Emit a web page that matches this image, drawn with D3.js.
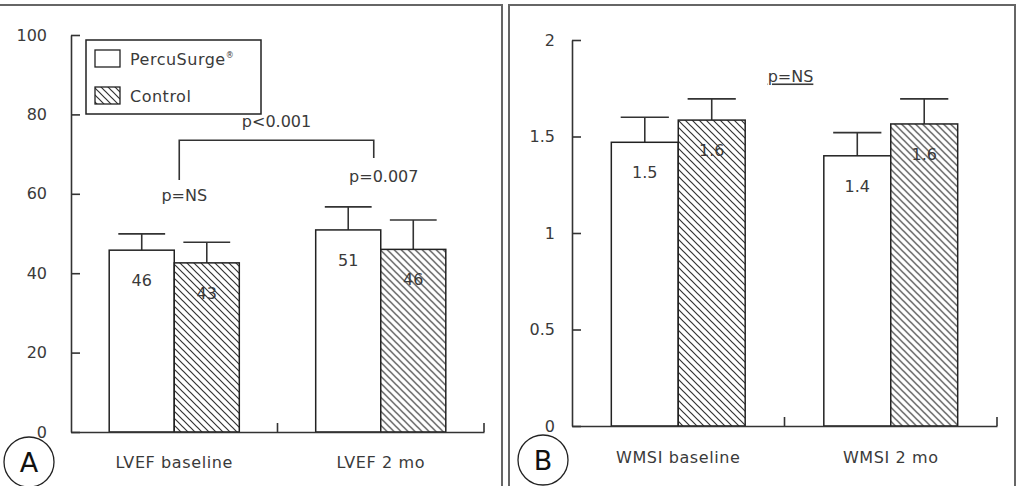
<!DOCTYPE html>
<html>
<head>
<meta charset="utf-8">
<script src="https://cdn.jsdelivr.net/npm/d3@7"></script>
<style>
  body { margin: 0; background: #fff; }
  svg text { font-family: "DejaVu Sans", sans-serif; fill: #3a3a3a; }
</style>
</head>
<body>
<div id="chart"></div>
<script>
// data
var series = ["PercuSurge", "Control"];

var lvefGroups = ["LVEF baseline", "LVEF 2 mo"];
var lvefPercu = [45.8, 50.9];
var lvefControl = [42.6, 46];
var lvefPercuErr = [4.1, 5.8];
var lvefControlErr = [5.2, 7.4];
var lvefTicks = [0, 20, 40, 60, 80, 100];

var wmsiGroups = ["WMSI baseline", "WMSI 2 mo"];
var wmsiPercu = [1.47, 1.40];
var wmsiControl = [1.585, 1.565];
var wmsiPercuErr = [0.13, 0.12];
var wmsiControlErr = [0.11, 0.13];
var wmsiTicks = [0, 0.5, 1, 1.5, 2];

var svg = d3.select("#chart").append("svg")
	.attr("width", 1020)
	.attr("height", 486);

// hatch pattern for the control bars
var defs = svg.append("defs");
var pat = defs.append("pattern")
	.attr("id", "hatch")
	.attr("patternUnits", "userSpaceOnUse")
	.attr("width", 7)
	.attr("height", 7);
pat.append("rect").attr("width", 7).attr("height", 7).attr("fill", "white");
pat.append("path")
	.attr("d", "M0,0 L7,7 M-3.5,3.5 L3.5,10.5 M3.5,-3.5 L10.5,3.5")
	.attr("stroke", "#333")
	.attr("stroke-width", 1.2);

// panel frames (panel A has no left edge in the picture)
svg.append("path").attr("d", "M0,5 H502 V490")
	.attr("fill", "none").attr("stroke", "#666").attr("stroke-width", 2);
svg.append("rect").attr("x", 509).attr("y", 5).attr("width", 506).attr("height", 490)
	.attr("fill", "none").attr("stroke", "#666").attr("stroke-width", 2);

function drawPanel(opt) {
	var g = svg.append("g");

	var y = d3.scaleLinear().domain(opt.domain).range([opt.y0, opt.y1]);
	var x0 = d3.scaleBand().domain(opt.groups).range([opt.x0, opt.x1]).padding(0);
	var bw = x0.bandwidth();
	var x1 = d3.scaleBand().domain(series).range([bw * 0.185, bw * 0.815]).padding(0);

	// y axis
	var yAxis = d3.axisLeft(y)
		.tickValues(opt.ticks)
		.tickFormat(opt.tickFmt)
		.tickSizeInner(-9)
		.tickSizeOuter(0)
		.tickPadding(opt.tickPad);
	var ya = g.append("g").attr("transform", "translate(" + opt.x0 + ",0)").call(yAxis);
	ya.selectAll("path, line").attr("stroke", "#333").attr("stroke-width", 1.6);
	ya.selectAll("text").attr("font-size", "16px").attr("fill", "#3a3a3a")
		.attr("font-family", "DejaVu Sans, sans-serif");

	// bars
	var rows = opt.groups.map(function(grp, i) {
		return [
			{ group: grp, key: "PercuSurge", value: opt.percu[i], err: opt.percuErr[i] },
			{ group: grp, key: "Control", value: opt.control[i], err: opt.controlErr[i] }
		];
	});
	var flat = d3.merge(rows);

	var bars = g.selectAll(".bar").data(flat).enter().append("g")
		.attr("transform", function(d) { return "translate(" + x0(d.group) + ",0)"; });

	// error bars
	bars.append("line")
		.attr("x1", function(d) { return x1(d.key) + x1.bandwidth() / 2; })
		.attr("x2", function(d) { return x1(d.key) + x1.bandwidth() / 2; })
		.attr("y1", function(d) { return y(d.value); })
		.attr("y2", function(d) { return y(d.value + d.err); })
		.attr("stroke", "#333").attr("stroke-width", 1.6);
	bars.append("line")
		.attr("x1", function(d) { return x1(d.key) + x1.bandwidth() * 0.14; })
		.attr("x2", function(d) { return x1(d.key) + x1.bandwidth() * 0.86; })
		.attr("y1", function(d) { return y(d.value + d.err); })
		.attr("y2", function(d) { return y(d.value + d.err); })
		.attr("stroke", "#333").attr("stroke-width", 1.6);

	bars.append("rect")
		.attr("x", function(d) { return x1(d.key); })
		.attr("y", function(d) { return y(d.value); })
		.attr("width", x1.bandwidth())
		.attr("height", function(d) { return y(0) - y(d.value); })
		.attr("fill", function(d) { return d.key == "Control" ? "url(#hatch)" : "white"; })
		.attr("stroke", "#222")
		.attr("stroke-width", 1.5);

	// value labels
	bars.append("text")
		.attr("x", function(d) { return x1(d.key) + x1.bandwidth() / 2; })
		.attr("y", function(d) { return y(d.value) + 36; })
		.attr("text-anchor", "middle")
		.attr("font-size", "16px")
		.text(function(d) { return opt.valFmt(d.value); });

	// x axis
	var xAxis = d3.axisBottom(x0).tickSize(0).tickPadding(opt.labelPad);
	var xa = g.append("g").attr("transform", "translate(0," + opt.y0 + ")").call(xAxis);
	xa.select("path").attr("stroke", "#333").attr("stroke-width", 1.6);
	xa.selectAll("text").attr("font-size", "16px").attr("fill", "#3a3a3a")
		.attr("letter-spacing", "0.6px")
		.attr("font-family", "DejaVu Sans, sans-serif");
	// little ticks at the right end of each group
	g.selectAll(".gtick").data(opt.groups).enter().append("line")
		.attr("x1", function(d) { return x0(d) + bw; })
		.attr("x2", function(d) { return x0(d) + bw; })
		.attr("y1", opt.y0)
		.attr("y2", opt.y0 - 9)
		.attr("stroke", "#333").attr("stroke-width", 1.6);

	// panel letter
	g.append("circle")
		.attr("cx", opt.letterX).attr("cy", opt.letterY).attr("r", 25)
		.attr("fill", "none").attr("stroke", "#222").attr("stroke-width", 1.3);
	g.append("text")
		.attr("x", opt.letterX).attr("y", opt.letterY + 10)
		.attr("text-anchor", "middle")
		.attr("font-size", "27px")
		.style("fill", "#111")
		.text(opt.letter);

	return { g: g, x0: x0, y: y };
}

var A = drawPanel({
	groups: lvefGroups, percu: lvefPercu, control: lvefControl,
	percuErr: lvefPercuErr, controlErr: lvefControlErr,
	domain: [0, 100], ticks: lvefTicks, tickFmt: d3.format("d"),
	valFmt: d3.format(".0f"),
	x0: 71, x1: 484, y0: 432, y1: 35, tickPad: 24, labelPad: 25,
	letter: "A", letterX: 29, letterY: 462
});

var B = drawPanel({
	groups: wmsiGroups, percu: wmsiPercu, control: wmsiControl,
	percuErr: wmsiPercuErr, controlErr: wmsiControlErr,
	domain: [0, 2], ticks: wmsiTicks, tickFmt: function(d) { return d3.format("")(d); },
	valFmt: d3.format(".1f"),
	x0: 572, x1: 997, y0: 426, y1: 40, tickPad: 17, labelPad: 26,
	letter: "B", letterX: 543, letterY: 460
});

// legend (panel A)
var legend = A.g.append("g");
legend.append("rect").attr("x", 86).attr("y", 40).attr("width", 175).attr("height", 74)
	.attr("fill", "white").attr("stroke", "#222").attr("stroke-width", 1.5);
series.forEach(function(s, i) {
	legend.append("rect")
		.attr("x", 95).attr("y", 50 + i * 37).attr("width", 25).attr("height", 17)
		.attr("fill", s == "Control" ? "url(#hatch)" : "white")
		.attr("stroke", "#222").attr("stroke-width", 1.3);
	var t = legend.append("text")
		.attr("x", 130).attr("y", 65 + i * 37)
		.attr("font-size", "16px")
		.attr("letter-spacing", "0.5px")
		.text(s);
	if (s == "PercuSurge") {
		t.append("tspan").attr("font-size", "8px").attr("dy", -7).text("®");
	}
});

// significance bracket (panel A)
var ya = A.y;
var cx1 = A.x0("LVEF baseline") + A.x0.bandwidth() / 2 + 5;
var cx2 = A.x0("LVEF 2 mo") + A.x0.bandwidth() / 2 - 7;
A.g.append("path")
	.attr("d", "M" + cx1 + "," + ya(63.5) + "V" + ya(73.5) + "H" + cx2 + "V" + ya(69))
	.attr("fill", "none").attr("stroke", "#333").attr("stroke-width", 1.6);
A.g.append("text").attr("x", (cx1 + cx2) / 2).attr("y", ya(76.8))
	.attr("text-anchor", "middle").attr("font-size", "16px").text("p<0.001");
A.g.append("text").attr("x", cx1 + 5).attr("y", ya(58.2))
	.attr("text-anchor", "middle").attr("font-size", "16px").text("p=NS");
A.g.append("text").attr("x", cx2 + 10).attr("y", ya(62.9))
	.attr("text-anchor", "middle").attr("font-size", "16px").text("p=0.007");

// p=NS (panel B), underlined
var bx = B.x0("WMSI 2 mo") + 6;
B.g.append("text").attr("x", bx).attr("y", B.y(1.78))
	.attr("text-anchor", "middle").attr("font-size", "16px")
	.attr("text-decoration", "underline")
	.text("p=NS");
</script>
</body>
</html>
